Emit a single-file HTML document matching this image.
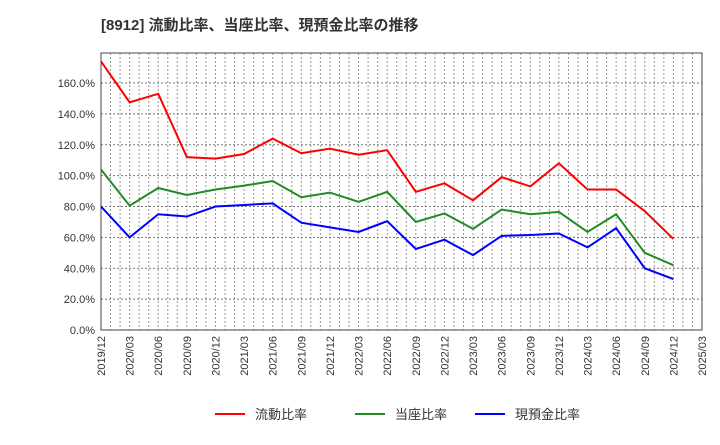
<!DOCTYPE html>
<html><head><meta charset="utf-8">
<style>
body{margin:0;background:#fff;width:720px;height:440px;overflow:hidden;font-family:"Liberation Sans","Noto Sans CJK JP",sans-serif;}
svg text{font-family:"Liberation Sans","Noto Sans CJK JP",sans-serif;}
</style></head>
<body>
<svg id="chart" width="720" height="440">
<text x="101" y="30" font-size="15" font-weight="bold" fill="#333">[8912]  流動比率、当座比率、現預金比率の推移</text>
<g id="grid"></g><g id="axes"></g><g id="series"></g><g id="legend"></g>
</svg>
<script>
const categories=["2019/12","2020/03","2020/06","2020/09","2020/12","2021/03","2021/06","2021/09","2021/12","2022/03","2022/06","2022/09","2022/12","2023/03","2023/06","2023/09","2023/12","2024/03","2024/06","2024/09","2024/12","2025/03"];
const currentRatio=[174,147.5,153,112,111,114,124,114.5,117.5,113.5,116.5,89.5,95,84,99,93,108,91,91,77,59];
const quickRatio=[104,80.5,92,87.5,91,93.5,96.5,86,89,83,89.5,70,75.5,65.5,78,75,76.5,63.5,75,50,42];
const cashRatio=[80,60,75,73.5,80,81,82,69.5,66.5,63.5,70.5,52.5,58.5,48.5,61,61.5,62.5,53.5,66,40,33];
const yTicks=[0,20,40,60,80,100,120,140,160];
const seriesNames=["流動比率","当座比率","現預金比率"];
const NS="http://www.w3.org/2000/svg";
const L=101,R=702,T=53,B=330;
const x=i=>L+(R-L)*i/(categories.length-1);
const y=v=>B-(B-83)*v/160;
function mk(tag,attrs,parent){const e=document.createElementNS(NS,tag);for(const k in attrs)e.setAttribute(k,attrs[k]);parent.appendChild(e);return e;}
const grid=document.getElementById('grid'),axes=document.getElementById('axes'),ser=document.getElementById('series'),leg=document.getElementById('legend');
for(let m=1;m<(categories.length-1)*3;m++){const xx=L+(R-L)*m/((categories.length-1)*3);
const g=mk('line',{x1:xx,x2:xx,y1:T,y2:B,stroke:'#999','stroke-dasharray':'2,2','stroke-width':1},grid);

}
yTicks.forEach(v=>{if(v>0){const g=mk('line',{x1:L,x2:R,y1:y(v),y2:y(v),stroke:'#777','stroke-dasharray':'2,2','stroke-width':1},grid);

}
const t=mk('text',{x:L-6,y:y(v)+4,'font-size':11,'text-anchor':'end',fill:'#333'},axes);t.textContent=v.toFixed(1)+'%';

});
const fr=mk('rect',{x:L,y:T,width:R-L,height:B-T,fill:'none',stroke:'#444','stroke-width':1},axes);


categories.forEach((c,i)=>{const t=mk('text',{transform:`translate(${x(i)+4},${B+6}) rotate(-90)`,'font-size':11,'text-anchor':'end',fill:'#333'},axes);t.textContent=c;

});
const data=[currentRatio,quickRatio,cashRatio],colors=['#ff0000','#228b22','#0000ff'],names=['current-ratio-line','quick-ratio-line','cash-ratio-line'];
data.forEach((d,k)=>{const p=mk('polyline',{points:d.map((v,i)=>x(i)+','+y(v)).join(' '),fill:'none',stroke:colors[k],'stroke-width':2},ser);

});
const lx=[215,355,475];
seriesNames.forEach((n,k)=>{const g=mk('g',{},leg);


mk('line',{x1:lx[k],x2:lx[k]+30,y1:414,y2:414,stroke:colors[k],'stroke-width':2},g);
const t=mk('text',{x:lx[k]+40,y:419,'font-size':13,fill:'#333'},g);t.textContent=n;});
</script>
</body></html>
